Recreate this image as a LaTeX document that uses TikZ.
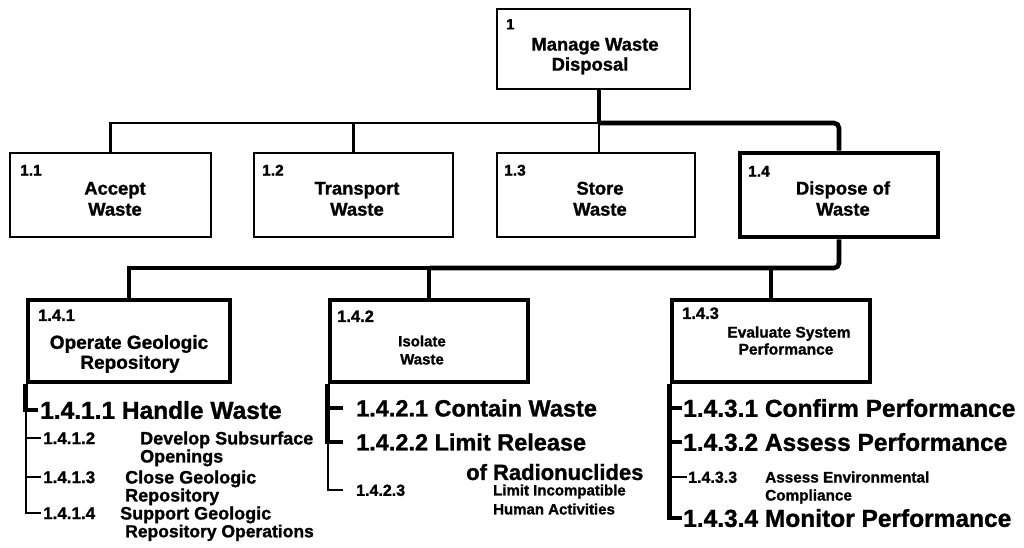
\documentclass[tikz,border=0pt]{standalone}
\usepackage{fontspec}
\setmainfont{Liberation Sans}[BoldFeatures={FakeBold=1.2}]
\usetikzlibrary{calc}
\begin{document}
\begin{tikzpicture}[x=1pt,y=-1pt,
  fs/.style={inner sep=0pt, font=\bfseries\fontsize{#1}{#1}\selectfont,
             text height={0.72*#1pt}, text depth=0pt},
  lw/.style={fs=#1, anchor=west},
  box/.style={draw, line width=2.4pt, inner sep=0pt},
  boxthick/.style={draw, line width=4.6pt, inner sep=0pt},
  thinline/.style={line width=2.4pt},
  thickline/.style={line width=4.6pt},
]
\useasboundingbox (0,0) rectangle (1024,547);

% ---- top level ----
\node[box, minimum width=193pt, minimum height=80pt] (b1) at (593.5,49) {};
\node[lw=15] (b1n) at (506,24) {1};
\node[fs=18.4] (b1a) at (595,44) {Manage Waste};
\node[fs=18.4] (b1b) at (590,64) {Disposal};

% ---- first level ----
\node[box, minimum width=201pt, minimum height=84pt] (b11) at (110.5,195) {};
\node[box, minimum width=199pt, minimum height=84pt] (b12) at (353.5,195) {};
\node[box, minimum width=198pt, minimum height=84pt] (b13) at (596,195) {};
\node[boxthick, minimum width=198pt, minimum height=84pt] (b14) at (839,195) {};

\node[lw=15.5] (b11n) at (20,170) {1.1};
\node[lw=15.5] (b12n) at (262,170) {1.2};
\node[lw=15.5] (b13n) at (504,170) {1.3};
\node[lw=15.5] (b14n) at (748,171) {1.4};

\node[fs=18.4] (b11a) at (115,188) {Accept};
\node[fs=18.4] (b11b) at (115,209) {Waste};
\node[fs=18.4] (b12a) at (357,188) {Transport};
\node[fs=18.4] (b12b) at (357,209) {Waste};
\node[fs=18.4] (b13a) at (600,188) {Store};
\node[fs=18.4] (b13b) at (600,209) {Waste};
\node[fs=18.4] (b14a) at (843,188) {Dispose of};
\node[fs=18.4] (b14b) at (843,209) {Waste};

% ---- second level ----
\node[boxthick, minimum width=202pt, minimum height=82pt] (b141) at (129,341) {};
\node[boxthick, minimum width=198pt, minimum height=82pt] (b142) at (429,341) {};
\node[boxthick, minimum width=198pt, minimum height=82pt] (b143) at (771,341) {};

\node[lw=16.5] (b141n) at (38,315) {1.4.1};
\node[lw=16.5] (b142n) at (337,316) {1.4.2};
\node[lw=16.5] (b143n) at (682,313) {1.4.3};

\node[fs=19] (b141a) at (129,342) {Operate Geologic};
\node[fs=19] (b141b) at (130,362) {Repository};
\node[fs=15] (b142a) at (422,341) {Isolate};
\node[fs=15] (b142b) at (422,359) {Waste};
\node[fs=15.5] (b143a) at (789,332) {Evaluate System};
\node[fs=15.5] (b143b) at (786,349) {Performance};

% ---- connectors between boxes ----
\coordinate (bar) at (599,123);
\coordinate (lvm) at (430,268);
\draw[thickline] (bar |- b1.south) -- (bar);
\draw[thinline] (b11.north) |- (bar);
\draw[thinline] (b12.north) -- (b12.north |- bar);
\draw[thinline] (bar |- b13.north) -- (bar);
\draw[thickline, rounded corners=5pt] (bar) -| (b14.north);

\draw[thickline, rounded corners=5pt] (b14.south) |- (lvm);
\draw[thickline] (lvm) -- (b141.north |- lvm) -- (b141.north);
\draw[thickline] (b142.north |- lvm) -- (b142.north);
\draw[thickline] (b143.north |- lvm) -- (b143.north);

% ---- 1.4.1 activities ----
\node[lw=24.5] (t1411) at (40,410) {1.4.1.1 Handle Waste};
\node[lw=17] (t1412) at (43,438) {1.4.1.2};
\node[lw=18] (t1412a) at (140,438) {Develop Subsurface};
\node[lw=18] (t1412b) at (140,456) {Openings};
\node[lw=17] (t1413) at (43,477) {1.4.1.3};
\node[lw=18] (t1413a) at (125,477) {Close Geologic};
\node[lw=18] (t1413b) at (125,495) {Repository};
\node[lw=17] (t1414) at (43,513) {1.4.1.4};
\node[lw=18] (t1414a) at (120,513) {Support Geologic};
\node[lw=17.5] (t1414b) at (125,531) {Repository Operations};

\draw[thickline, shorten >=2pt] (b141.south west) -- (b141.south west |- t1411.west) -- (t1411.west);
\draw[thinline, shorten >=2pt] (b141.south west |- t1411.west) -- (b141.south west |- t1414.west) -- (t1414.west);
\draw[thinline, shorten >=2pt] (b141.south west |- t1412.west) -- (t1412.west);
\draw[thinline, shorten >=2pt] (b141.south west |- t1413.west) -- (t1413.west);

% ---- 1.4.2 activities ----
\node[lw=23.5] (t1421) at (356,408) {1.4.2.1 Contain Waste};
\node[lw=23.5] (t1422) at (356,442) {1.4.2.2 Limit Release};
\node[lw=22] (t1422b) at (466,472) {of Radionuclides};
\node[lw=16] (t1423) at (356,490) {1.4.2.3};
\node[lw=15] (t1423a) at (493,490) {Limit Incompatible};
\node[lw=15] (t1423b) at (493,509) {Human Activities};

\draw[thickline, shorten >=13pt] (b142.south west) -- (b142.south west |- t1422.west) -- (t1422.west);
\draw[thickline, shorten >=13pt] (b142.south west |- t1421.west) -- (t1421.west);
\draw[thinline, shorten >=13pt] (b142.south west |- t1422.west) -- (b142.south west |- t1423.west) -- (t1423.west);

% ---- 1.4.3 activities ----
\node[lw=24.5] (t1431) at (683,408) {1.4.3.1 Confirm Performance};
\node[lw=24.5] (t1432) at (683,442) {1.4.3.2 Assess Performance};
\node[lw=16] (t1433) at (688,477) {1.4.3.3};
\node[lw=15.3] (t1433a) at (765,477) {Assess Environmental};
\node[lw=15.3] (t1433b) at (765,495) {Compliance};
\node[lw=24.5] (t1434) at (683,518) {1.4.3.4 Monitor Performance};

\draw[thickline, shorten >=1pt] (b143.south west) -- (b143.south west |- t1434.west) -- (t1434.west);
\draw[thickline, shorten >=1pt] (b143.south west |- t1431.west) -- (t1431.west);
\draw[thickline, shorten >=1pt] (b143.south west |- t1432.west) -- (t1432.west);
\draw[thinline, shorten >=1pt] (b143.south west |- t1433.west) -- (t1433.west);
\end{tikzpicture}
\end{document}
